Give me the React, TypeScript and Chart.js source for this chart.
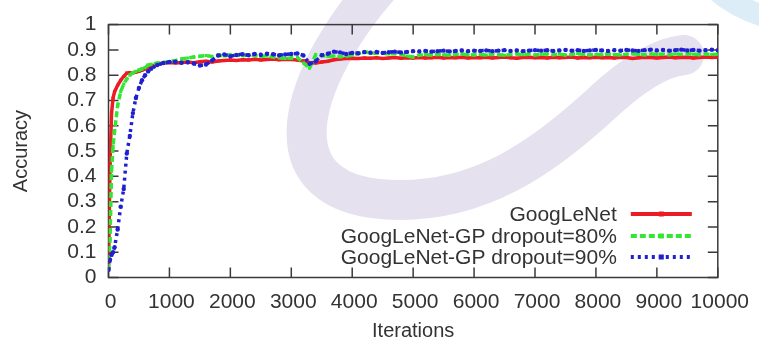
import { useEffect, useRef } from "react";
import { Chart, registerables } from "chart.js";

Chart.register(...registerables);

// Training iterations at which accuracy was logged
const iterations = [
  0, 25, 50, 75, 100, 150, 200, 250, 300, 350, 400, 450, 500, 550, 600, 650, 700, 800, 900, 1000,
  1100, 1200, 1300, 1400, 1500, 1600, 1700, 1800, 1900, 2000,
  2100, 2200, 2300, 2400, 2500, 2600, 2700, 2800, 2900, 3000,
  3100, 3200, 3300, 3400, 3500, 3600, 3700, 3800, 3900, 4000,
  4100, 4200, 4300, 4400, 4500, 4600, 4700, 4800, 4900, 5000,
  5100, 5200, 5300, 5400, 5500, 5600, 5700, 5800, 5900, 6000,
  6100, 6200, 6300, 6400, 6500, 6600, 6700, 6800, 6900, 7000,
  7100, 7200, 7300, 7400, 7500, 7600, 7700, 7800, 7900, 8000,
  8100, 8200, 8300, 8400, 8500, 8600, 8700, 8800, 8900, 9000,
  9100, 9200, 9300, 9400, 9500, 9600, 9700, 9800, 9900, 10000,
];

const googLeNet = [
  0.03, 0.45, 0.65, 0.71, 0.735, 0.76, 0.78, 0.795, 0.808, 0.81, 0.81, 0.812, 0.815, 0.82, 0.825, 0.83, 0.835, 0.843, 0.848, 0.85,
  0.848, 0.85, 0.852, 0.849, 0.853, 0.855, 0.852, 0.856, 0.858, 0.86,
  0.858, 0.861, 0.86, 0.863, 0.86, 0.862, 0.864, 0.861, 0.863, 0.862,
  0.86, 0.856, 0.85, 0.848, 0.852, 0.855, 0.861, 0.864, 0.866, 0.867,
  0.866, 0.868, 0.867, 0.869, 0.866, 0.868, 0.87, 0.867, 0.869, 0.868,
  0.87, 0.868, 0.869, 0.871, 0.868, 0.87, 0.869, 0.871, 0.868, 0.87,
  0.869, 0.871, 0.868, 0.87, 0.872, 0.869, 0.867, 0.87, 0.871, 0.869,
  0.87, 0.868, 0.871, 0.869, 0.87, 0.872, 0.868, 0.87, 0.869, 0.871,
  0.869, 0.87, 0.868, 0.871, 0.87, 0.866, 0.869, 0.871, 0.87, 0.868,
  0.87, 0.872, 0.869, 0.87, 0.871, 0.868, 0.87, 0.872, 0.87, 0.871,
];

const gpDropout80 = [
  0.03, 0.15, 0.42, 0.52, 0.58, 0.68, 0.735, 0.765, 0.785, 0.8, 0.81, 0.815, 0.82, 0.825, 0.83, 0.84, 0.843, 0.848, 0.85, 0.853,
  0.858, 0.864, 0.868, 0.872, 0.875, 0.878, 0.874, 0.879, 0.876, 0.881,
  0.879, 0.877, 0.881, 0.878, 0.874, 0.877, 0.872, 0.869, 0.866, 0.868,
  0.87, 0.848, 0.828, 0.881, 0.878, 0.874, 0.876, 0.873, 0.876, 0.879,
  0.885, 0.893, 0.888, 0.886, 0.887, 0.884, 0.886, 0.883, 0.876, 0.872,
  0.879, 0.882, 0.88, 0.883, 0.881, 0.879, 0.882, 0.884, 0.881, 0.88,
  0.882, 0.88, 0.883, 0.881, 0.879, 0.882, 0.884, 0.881, 0.883, 0.88,
  0.882, 0.884, 0.881, 0.883, 0.88, 0.882, 0.885, 0.882, 0.88, 0.883,
  0.881, 0.884, 0.882, 0.88, 0.883, 0.885, 0.882, 0.881, 0.884, 0.882,
  0.883, 0.881, 0.884, 0.882, 0.885, 0.883, 0.881, 0.884, 0.882, 0.883,
];

const gpDropout90 = [
  0.03, 0.07, 0.09, 0.1, 0.12, 0.19, 0.28, 0.35, 0.49, 0.56, 0.65, 0.71, 0.75, 0.78, 0.8, 0.815, 0.825, 0.84, 0.848, 0.852,
  0.853, 0.849, 0.851, 0.846, 0.838, 0.842, 0.858, 0.878, 0.882, 0.875,
  0.88, 0.883, 0.879, 0.884, 0.881, 0.885, 0.883, 0.879, 0.882, 0.884,
  0.886, 0.878, 0.845, 0.855, 0.879, 0.885, 0.893, 0.89, 0.884, 0.888,
  0.887, 0.891, 0.889, 0.892, 0.888, 0.891, 0.893, 0.89, 0.892, 0.895,
  0.894, 0.896, 0.893, 0.895, 0.897, 0.894, 0.896, 0.898, 0.895, 0.897,
  0.896, 0.898, 0.895, 0.897, 0.899, 0.896, 0.898, 0.895, 0.897, 0.899,
  0.897, 0.899, 0.896, 0.898, 0.9, 0.897, 0.899, 0.896, 0.898, 0.9,
  0.898, 0.896, 0.899, 0.897, 0.9, 0.898, 0.896, 0.899, 0.901, 0.898,
  0.9, 0.897, 0.899, 0.901, 0.898, 0.9, 0.897, 0.899, 0.901, 0.899,
];

const xTicks = [0, 1000, 2000, 3000, 4000, 5000, 6000, 7000, 8000, 9000, 10000];
const yTicks = [0, 0.1, 0.2, 0.3, 0.4, 0.5, 0.6, 0.7, 0.8, 0.9, 1];

const seriesNames = ["GoogLeNet", "GoogLeNet-GP dropout=80%", "GoogLeNet-GP dropout=90%"];
const seriesColors = ["#ec1c24", "#33e633", "#2020d0"];
const seriesDashes: number[][] = [[], [6, 3], [3, 4]];
const seriesPointStyles = ["rect", "rect", "circle"];

const FONT = "'Liberation Sans', Arial, Helvetica, sans-serif";
const TEXT = "#333333";

// Faint logo-like shapes painted behind the plot
const backdrop = {
  id: "backdrop",
  beforeDraw(chart: any) {
    const { ctx, width, height } = chart;
    ctx.save();
    ctx.fillStyle = "#ffffff";
    ctx.fillRect(0, 0, width, height);
    ctx.strokeStyle = "#e5e1ef";
    ctx.lineWidth = 40;
    ctx.lineCap = "round";
    ctx.beginPath();
    ctx.moveTo(392, -28);
    ctx.bezierCurveTo(300, 70, 255, 200, 400, 200);
    ctx.bezierCurveTo(480, 200, 540, 160, 600, 105);
    ctx.quadraticCurveTo(650, 58, 684, 55);
    ctx.stroke();
    ctx.strokeStyle = "#dcedf8";
    ctx.lineWidth = 22;
    ctx.beginPath();
    ctx.moveTo(712, -14);
    ctx.quadraticCurveTo(736, 10, 778, 20);
    ctx.stroke();
    ctx.restore();
  },
};

// Box around the plot with inward tick marks on every side
const frameAndTicks = {
  id: "frameAndTicks",
  beforeDatasetsDraw(chart: any) {
    const { ctx, chartArea: a, scales } = chart;
    const len = 10;
    ctx.save();
    ctx.strokeStyle = "#3a3a3a";
    ctx.lineWidth = 1.5;
    ctx.strokeRect(a.left, a.top, a.right - a.left, a.bottom - a.top);
    ctx.beginPath();
    for (const t of xTicks) {
      const px = scales.x.getPixelForValue(t);
      ctx.moveTo(px, a.bottom);
      ctx.lineTo(px, a.bottom - len);
      ctx.moveTo(px, a.top);
      ctx.lineTo(px, a.top + len);
    }
    for (const t of yTicks) {
      const py = scales.y.getPixelForValue(t);
      ctx.moveTo(a.left, py);
      ctx.lineTo(a.left + len, py);
      ctx.moveTo(a.right, py);
      ctx.lineTo(a.right - len, py);
    }
    ctx.stroke();
    ctx.restore();
  },
};

// Key in the lower right: right-aligned names followed by line samples
const insideKey = {
  id: "insideKey",
  afterDatasetsDraw(chart: any) {
    const { ctx, chartArea: a } = chart;
    const textRight = a.right - 101;
    const sampleStart = a.right - 87;
    const sampleEnd = a.right - 26;
    const rows = [a.bottom - 63.5, a.bottom - 41.5, a.bottom - 20.5];
    ctx.save();
    ctx.font = `21px ${FONT}`;
    ctx.textAlign = "right";
    ctx.textBaseline = "middle";
    seriesNames.forEach((name, i) => {
      const y = rows[i];
      ctx.fillStyle = TEXT;
      ctx.fillText(name, textRight, y + 1);
      ctx.strokeStyle = seriesColors[i];
      ctx.lineWidth = 4;
      ctx.lineCap = "butt";
      ctx.setLineDash(seriesDashes[i]);
      ctx.beginPath();
      ctx.moveTo(sampleStart, y);
      ctx.lineTo(sampleEnd, y);
      ctx.stroke();
      ctx.setLineDash([]);
      ctx.fillStyle = seriesColors[i];
      const mid = (sampleStart + sampleEnd) / 2;
      ctx.fillRect(mid - 2.5, y - 2.5, 5, 5);
    });
    ctx.restore();
  },
};

export default function App() {
  const canvasRef = useRef<HTMLCanvasElement | null>(null);

  useEffect(() => {
    const canvas = canvasRef.current;
    if (!canvas) return;
    const seriesValues = [googLeNet, gpDropout80, gpDropout90];
    const chart = new Chart(canvas, {
      type: "line",
      data: {
        datasets: seriesValues.map((values, i) => ({
          label: seriesNames[i],
          data: iterations.map((x, j) => ({ x, y: values[j] })),
          borderColor: seriesColors[i],
          backgroundColor: seriesColors[i],
          borderWidth: 3.5,
          borderDash: seriesDashes[i],
          pointStyle: seriesPointStyles[i] as any,
          pointRadius: 2.2,
          pointBorderWidth: 0,
          tension: 0,
          fill: false,
          order: 3 - i,
        })),
      },
      options: {
        responsive: false,
        animation: false,
        events: [],
        layout: { padding: { top: 23, right: 38, left: 0, bottom: 0 } },
        plugins: {
          legend: { display: false },
          tooltip: { enabled: false },
        },
        scales: {
          x: {
            type: "linear",
            min: 0,
            max: 10000,
            afterBuildTicks: (s: any) => {
              s.ticks = xTicks.map((v) => ({ value: v }));
            },
            afterFit: (s: any) => {
              s.height = 61.5;
            },
            grid: { display: false, drawTicks: false },
            border: { display: false },
            ticks: {
              color: TEXT,
              font: { family: FONT, size: 21 },
              padding: 12,
              labelOffset: 2,
              maxRotation: 0,
              autoSkip: false,
              callback: (v: any) => String(v),
            },
            title: {
              display: true,
              text: "Iterations",
              color: TEXT,
              font: { family: FONT, size: 20, lineHeight: 0.8 },
              padding: { top: 0, bottom: 0 },
            },
          },
          y: {
            min: 0,
            max: 1,
            afterBuildTicks: (s: any) => {
              s.ticks = yTicks.map((v) => ({ value: v }));
            },
            afterFit: (s: any) => {
              s.width = 108.5;
            },
            grid: { display: false, drawTicks: false },
            border: { display: false },
            ticks: {
              color: TEXT,
              font: { family: FONT, size: 21 },
              padding: 12,
              autoSkip: false,
              callback: (v: any) => String(Math.round(Number(v) * 10) / 10),
            },
            title: {
              display: true,
              text: "Accuracy",
              color: TEXT,
              font: { family: FONT, size: 20, lineHeight: 1 },
              padding: { top: 11, bottom: 0 },
            },
          },
        },
      },
      plugins: [backdrop, frameAndTicks, insideKey],
    });
    return () => chart.destroy();
  }, []);

  return (
    <div style={{ position: "fixed", left: 0, top: 0, width: 759, height: 339, background: "#fff" }}>
      <canvas ref={canvasRef} width={759} height={339} style={{ display: "block" }} />
    </div>
  );
}
